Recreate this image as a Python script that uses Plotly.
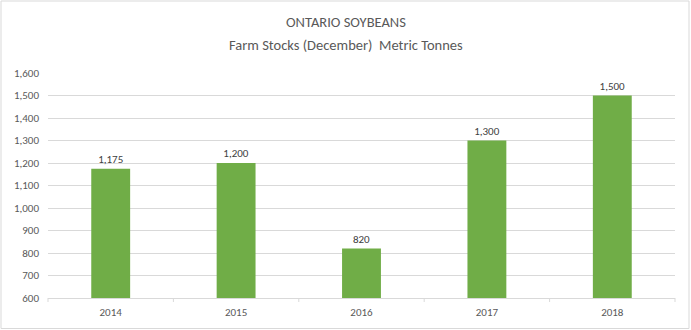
import plotly.graph_objects as go

years = ["2014", "2015", "2016", "2017", "2018"]
stocks = [1175, 1200, 820, 1300, 1500]
tick_vals = [600, 700, 800, 900, 1000, 1100, 1200, 1300, 1400, 1500, 1600]
title_lines = ["ONTARIO SOYBEANS", "Farm Stocks (December)  Metric Tonnes"]

W, H = 691, 330
L, R, T, B = 48, 16, 73, 32
pw, ph = W - L - R, H - T - B

def px_x(x):
    return (x - L) / pw

def px_y(y):
    return (H - B - y) / ph

font_fam = "Carlito, Calibri, Lato, sans-serif"

fig = go.Figure(go.Bar(
    x=years, y=stocks,
    marker=dict(color="#70AD47", line=dict(width=0)),
    width=0.31,
    text=[f"{v:,}" for v in stocks],
    textposition="outside",
    textfont=dict(size=11, color="#404040", family=font_fam),
    cliponaxis=False,
))

fig.update_layout(
    width=W, height=H,
    margin=dict(l=L, r=R, t=T, b=B),
    paper_bgcolor="white", plot_bgcolor="white",
    showlegend=False,
    font=dict(family=font_fam, color="#595959"),
    xaxis=dict(
        showgrid=False, showline=True, linecolor="#D9D9D9", linewidth=1,
        tickfont=dict(size=11, color="#595959"),
        ticks="", ticklabelstandoff=4,
    ),
    yaxis=dict(
        range=[600, 1600], tickvals=tick_vals, tickformat=",",
        showgrid=True, gridcolor="#D9D9D9", gridwidth=1,
        zeroline=False, showline=False,
        tickfont=dict(size=11, color="#595959"),
        ticklabelstandoff=8,
    ),
)

for line, yc in zip(title_lines, [22, 45]):
    fig.add_annotation(text=line, xref="paper", yref="paper",
                       x=px_x(W / 2), y=px_y(yc), xanchor="center", yanchor="middle",
                       showarrow=False, font=dict(size=14.5, color="#595959", family=font_fam))

# category boundary tick marks
for i in range(len(years) + 1):
    xp = i / len(years)
    fig.add_shape(type="line", xref="paper", yref="paper",
                  x0=xp, x1=xp, y0=0, y1=-4 / ph,
                  line=dict(color="#D9D9D9", width=1))

# chart border
fig.add_shape(type="rect", xref="paper", yref="paper",
              x0=px_x(1), x1=px_x(689), y0=px_y(328.5), y1=px_y(1),
              line=dict(color="#D9D9D9", width=1), layer="below")

fig.write_html("out.html")
